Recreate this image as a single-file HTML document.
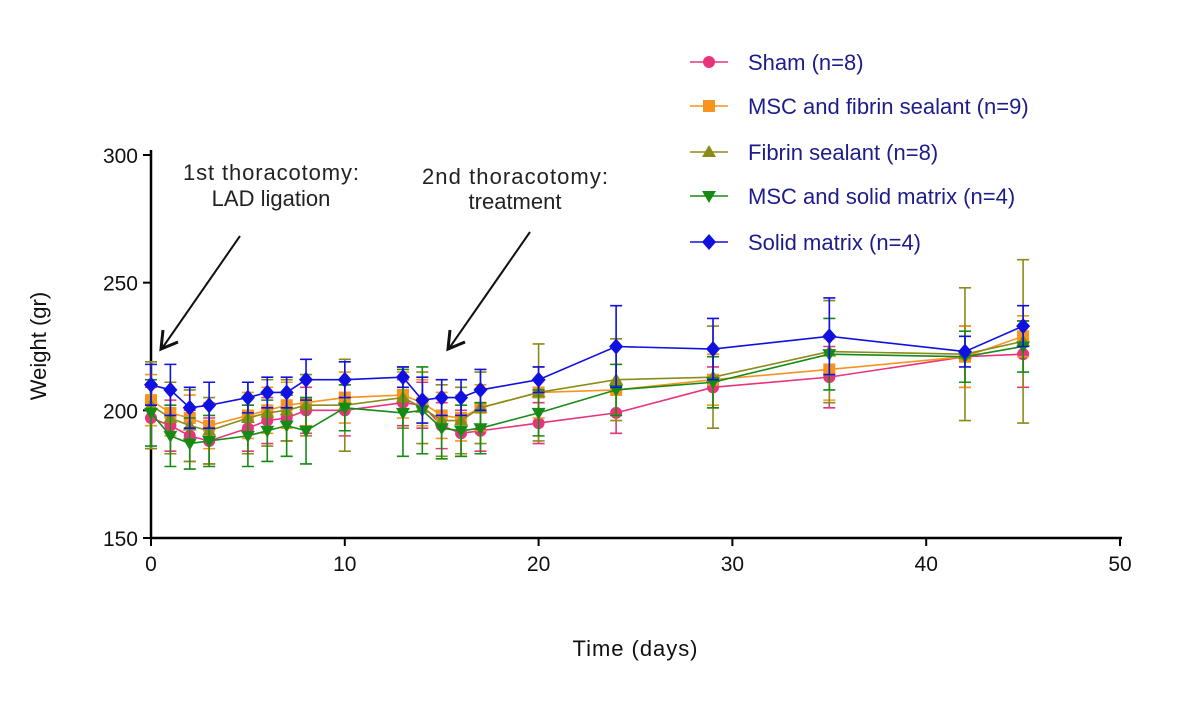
<!DOCTYPE html>
<html><head><meta charset="utf-8"><style>
body{margin:0;background:#fff}
svg{display:block;font-family:"Liberation Sans",Arial,sans-serif}
</style></head><body>
<svg id="chart" width="1200" height="716">
<g id="axes"></g><g id="series"></g><g id="legend"></g>
<g font-size="22" fill="#222" text-anchor="middle">
<text x="271" y="180" textLength="176">1st thoracotomy:</text>
<text x="271" y="206">LAD ligation</text>
<text x="515" y="184" textLength="186">2nd thoracotomy:</text>
<text x="515" y="209">treatment</text>
<line x1="240" y1="236" x2="163" y2="347" stroke="#111" stroke-width="2"/>
<polyline points="163,330 161,349 178,342" fill="none" stroke="#111" stroke-width="3"/>
<line x1="530" y1="232" x2="450" y2="347" stroke="#111" stroke-width="2"/>
<polyline points="450,330 448,349 465,342" fill="none" stroke="#111" stroke-width="3"/>
</g>
<text x="635" y="656" font-size="22" textLength="125" text-anchor="middle" fill="#111">Time (days)</text>
<text transform="translate(46,346) rotate(-90)" font-size="22" text-anchor="middle" fill="#111">Weight (gr)</text>
</svg>
<script>
const days=[0,1,2,3,5,6,7,8,10,13,14,15,16,17,20,24,29,35,42,45];
const sham=[197,194,190,188,193,196,197,200,200,203,202,194,191,192,195,199,209,213,221,222];
const shamErr=[12,10,10,9,9,9,9,9,10,9,9,9,9,8,8,8,8,12,12,13];
const mscFibrin=[204,199,197,194,198,200,202,203,205,206,203,198,197,201,207,208,212,216,221,229];
const mscFibrinErr=[10,9,9,9,9,9,9,9,10,9,9,9,9,9,10,10,10,12,12,8];
const fibrin=[202,197,194,192,197,199,200,202,202,205,201,196,196,201,207,212,213,223,222,227];
const fibrinErr=[17,14,14,13,14,13,12,12,18,12,14,14,13,14,19,16,20,20,26,32];
const mscSolid=[199,190,187,188,190,192,194,192,201,199,200,193,192,193,199,208,211,222,221,225];
const mscSolidErr=[13,12,10,10,12,12,12,13,9,17,17,12,10,10,9,10,10,14,10,10];
const solid=[210,208,201,202,205,207,207,212,212,213,204,205,205,208,212,225,224,229,223,233];
const solidErr=[8,10,8,9,6,6,6,8,7,4,9,7,7,8,5,16,12,15,6,8];
const xTicks=[0,10,20,30,40,50];
const yTicks=[150,200,250,300];
const names=["Sham (n=8)","MSC and fibrin sealant (n=9)","Fibrin sealant (n=8)","MSC and solid matrix (n=4)","Solid matrix (n=4)"];
const NS="http://www.w3.org/2000/svg";
const X=v=>151+v*(1120-151)/50;
const Y=v=>538-(v-150)*(538-155)/150;
function mk(t,a,p){const e=document.createElementNS(NS,t);for(const k in a)e.setAttribute(k,a[k]);p.appendChild(e);return e;}
const ax=document.getElementById('axes');
let l=mk('line',{x1:151,y1:150,x2:151,y2:538,stroke:'#000','stroke-width':2.5},ax);


l=mk('line',{x1:151,y1:538,x2:1122,y2:538,stroke:'#000','stroke-width':2.5},ax);


xTicks.forEach(t=>{
 const tk=mk('line',{x1:X(t),y1:538,x2:X(t),y2:546,stroke:'#000','stroke-width':2},ax);
 
 
 const tx=mk('text',{x:X(t),y:571,'font-size':21,'text-anchor':'middle',fill:'#111'},ax);tx.textContent=t;
 
 
});
yTicks.forEach(t=>{
 const tk=mk('line',{x1:143,y1:Y(t),x2:151,y2:Y(t),stroke:'#000','stroke-width':2},ax);
 
 
 const tx=mk('text',{x:138,y:Y(t)+8,'font-size':21,'text-anchor':'end',fill:'#111'},ax);tx.textContent=t;
 
 
});
const series=[[sham,shamErr,'#e8337d','circle'],[mscFibrin,mscFibrinErr,'#f7941d','square'],[fibrin,fibrinErr,'#8b8b1a','tri'],[mscSolid,mscSolidErr,'#168a16','tridown'],[solid,solidErr,'#1010e0','diamond']];
function marker(shape,x,y,c,p){
 let m;
 if(shape==='circle')m=mk('circle',{cx:x,cy:y,r:6,fill:c},p);
 else if(shape==='square')m=mk('rect',{x:x-6,y:y-6,width:12,height:12,fill:c},p);
 else if(shape==='tri')m=mk('polygon',{points:`${x},${y-7} ${x-7},${y+5} ${x+7},${y+5}`,fill:c},p);
 else if(shape==='tridown')m=mk('polygon',{points:`${x},${y+7} ${x-7},${y-5} ${x+7},${y-5}`,fill:c},p);
 else m=mk('polygon',{points:`${x},${y-8} ${x+7},${y} ${x},${y+8} ${x-7},${y}`,fill:c},p);
 return m;
}
const sg=document.getElementById('series');
series.forEach((s,si)=>{
 const g=mk('g',{},sg);
 
 
 s[0].forEach((v,i)=>{
  const e=s[1][i],x=X(days[i]);
  const eb=mk('path',{d:`M${x},${Y(v+e)}V${Y(v-e)}M${x-6},${Y(v+e)}H${x+6}M${x-6},${Y(v-e)}H${x+6}`,stroke:s[2],'stroke-width':1.6,fill:'none'},g);
  
  
 });
 const ln=mk('polyline',{points:s[0].map((v,i)=>X(days[i])+','+Y(v)).join(' '),fill:'none',stroke:s[2],'stroke-width':1.6},g);
 
 
 s[0].forEach((v,i)=>{
  const m=marker(s[3],X(days[i]),Y(v),s[2],g);
  
  
 });
});
const lg=document.getElementById('legend');
const ly=[62,106,152,196,242];
series.forEach((s,i)=>{
 const g=mk('g',{},lg);
 
 
 mk('line',{x1:690,y1:ly[i],x2:728,y2:ly[i],stroke:s[2],'stroke-width':1.6},g);
 marker(s[3],709,ly[i],s[2],g);
 const t=mk('text',{x:748,y:ly[i]+8,'font-size':22,fill:'#1c1c8a'},g);t.textContent=names[i];
});
</script>
</body></html>
